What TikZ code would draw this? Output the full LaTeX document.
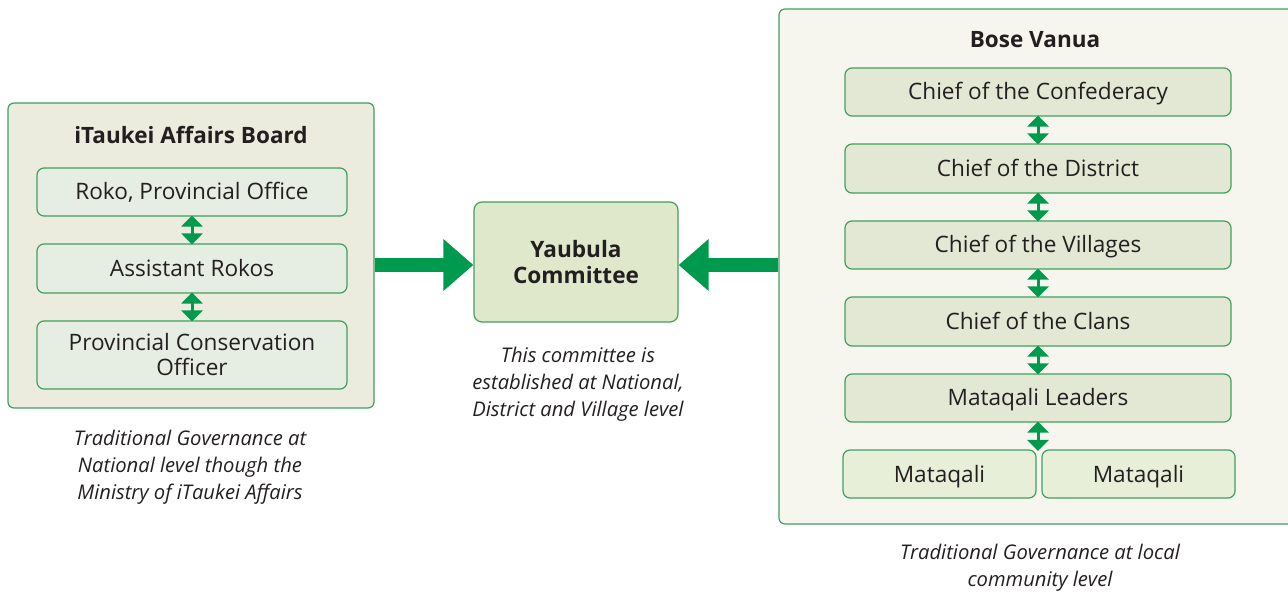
\documentclass[tikz,border=0pt]{standalone}
\usepackage{fontspec}
\setmainfont{Open Sans}
\usetikzlibrary{arrows.meta}
\definecolor{ink}{HTML}{231F20}
\definecolor{edge}{HTML}{3FA060}
\definecolor{arrowgreen}{HTML}{009A4E}
\definecolor{outerleft}{HTML}{EBEBDE}
\definecolor{innerleft}{HTML}{E6EDE3}
\definecolor{yaubfill}{HTML}{E0E8CB}
\definecolor{outerright}{HTML}{F6F6EE}
\definecolor{innerright}{HTML}{E3E8D4}
\definecolor{mataqalifill}{HTML}{E8EFD9}
\tikzset{
  panel/.style={draw=edge, line width=1.2pt, rounded corners=6pt, inner sep=0pt},
  tier/.style={draw=edge, line width=1.2pt, rounded corners=7pt, inner sep=0pt,
    text=ink, font=\fontsize{22.6}{25}\selectfont, align=center},
  oneline/.style={text height=16pt, text depth=0pt},
  heading/.style={text=ink, font=\fontsize{22.5}{24}\selectfont\bfseries},
  caption/.style={text=ink, font=\fontsize{20.2}{27}\selectfont\itshape, align=center},
  link/.style={arrowgreen, line width=3pt,
    {Triangle[width=21pt,length=11pt]}-{Triangle[width=21pt,length=11pt]}, shorten <=-1pt, shorten >=-1pt},
  feed/.style={arrowgreen, line width=14pt, -{Triangle[width=50pt,length=30pt]}},
}
\begin{document}
\begin{tikzpicture}[x=1pt,y=-1pt]
\useasboundingbox (0,0) rectangle (1288,593);

% national-level panel
\node[panel, fill=outerleft, minimum width=366pt, minimum height=305pt] (board) at (191,255.5) {};
\node[heading] (boardtitle) at (191,135) {iTaukei Affairs Board};
\node[tier, oneline, fill=innerleft, minimum width=310pt, minimum height=48pt] (roko) at (192,192) {Roko, Provincial Office};
\node[tier, oneline, fill=innerleft, minimum width=310pt, minimum height=49pt] (assist) at (192,268.5) {Assistant Rokos};
\node[tier, fill=innerleft, minimum width=310pt, minimum height=68pt] (pco) at (192,355) {Provincial Conservation\\Officer};
\draw[link] (roko) -- (assist);
\draw[link] (assist) -- (pco);
\node[caption] (boardcap) at (190,467) {Traditional Governance at\\National level though the\\Ministry of iTaukei Affairs};

% committee in the middle
\node[draw=edge, line width=1.2pt, rounded corners=8pt, fill=yaubfill, minimum width=204pt, minimum height=120pt,
  text=ink, font=\fontsize{22.6}{26}\selectfont\bfseries, align=center] (yaub) at (576,262) {Yaubula\\Committee};
\node[caption] (yaubcap) at (578,384) {This committee is\\established at National,\\District and Village level};

% community-level panel
\node[panel, fill=outerright, minimum width=530pt, minimum height=515pt] (bose) at (1044,266.5) {};
\node[heading] (bosetitle) at (1035,40) {Bose Vanua};
\node[tier, oneline, fill=innerright, minimum width=386pt, minimum height=48pt] (conf) at (1038,92) {Chief of the Confederacy};
\node[tier, oneline, fill=innerright, minimum width=386pt, minimum height=49pt] (dist) at (1038,168.5) {Chief of the District};
\node[tier, oneline, fill=innerright, minimum width=386pt, minimum height=48pt] (vill) at (1038,245) {Chief of the Villages};
\node[tier, oneline, fill=innerright, minimum width=386pt, minimum height=49pt] (clan) at (1038,321.5) {Chief of the Clans};
\node[tier, oneline, fill=innerright, minimum width=386pt, minimum height=48pt] (lead) at (1038,398) {Mataqali Leaders};
\node[tier, oneline, fill=mataqalifill, minimum width=193pt, minimum height=48pt] (mq1) at (939.5,474) {Mataqali};
\node[tier, oneline, fill=mataqalifill, minimum width=193pt, minimum height=48pt] (mq2) at (1138.5,474) {Mataqali};
\coordinate (mqjoin) at (1038,450);
\draw[link] (conf) -- (dist);
\draw[link] (dist) -- (vill);
\draw[link] (vill) -- (clan);
\draw[link] (clan) -- (lead);
\draw[link] (lead) -- (mqjoin);
\node[caption] (bosecap) at (1040,568) {Traditional Governance at local\\community level};

% both sides feed the committee
\draw[feed] (board.east |- 0,265) -- (yaub.west |- 0,265);
\draw[feed] (bose.west |- 0,265) -- (yaub.east |- 0,265);
\end{tikzpicture}
\end{document}
